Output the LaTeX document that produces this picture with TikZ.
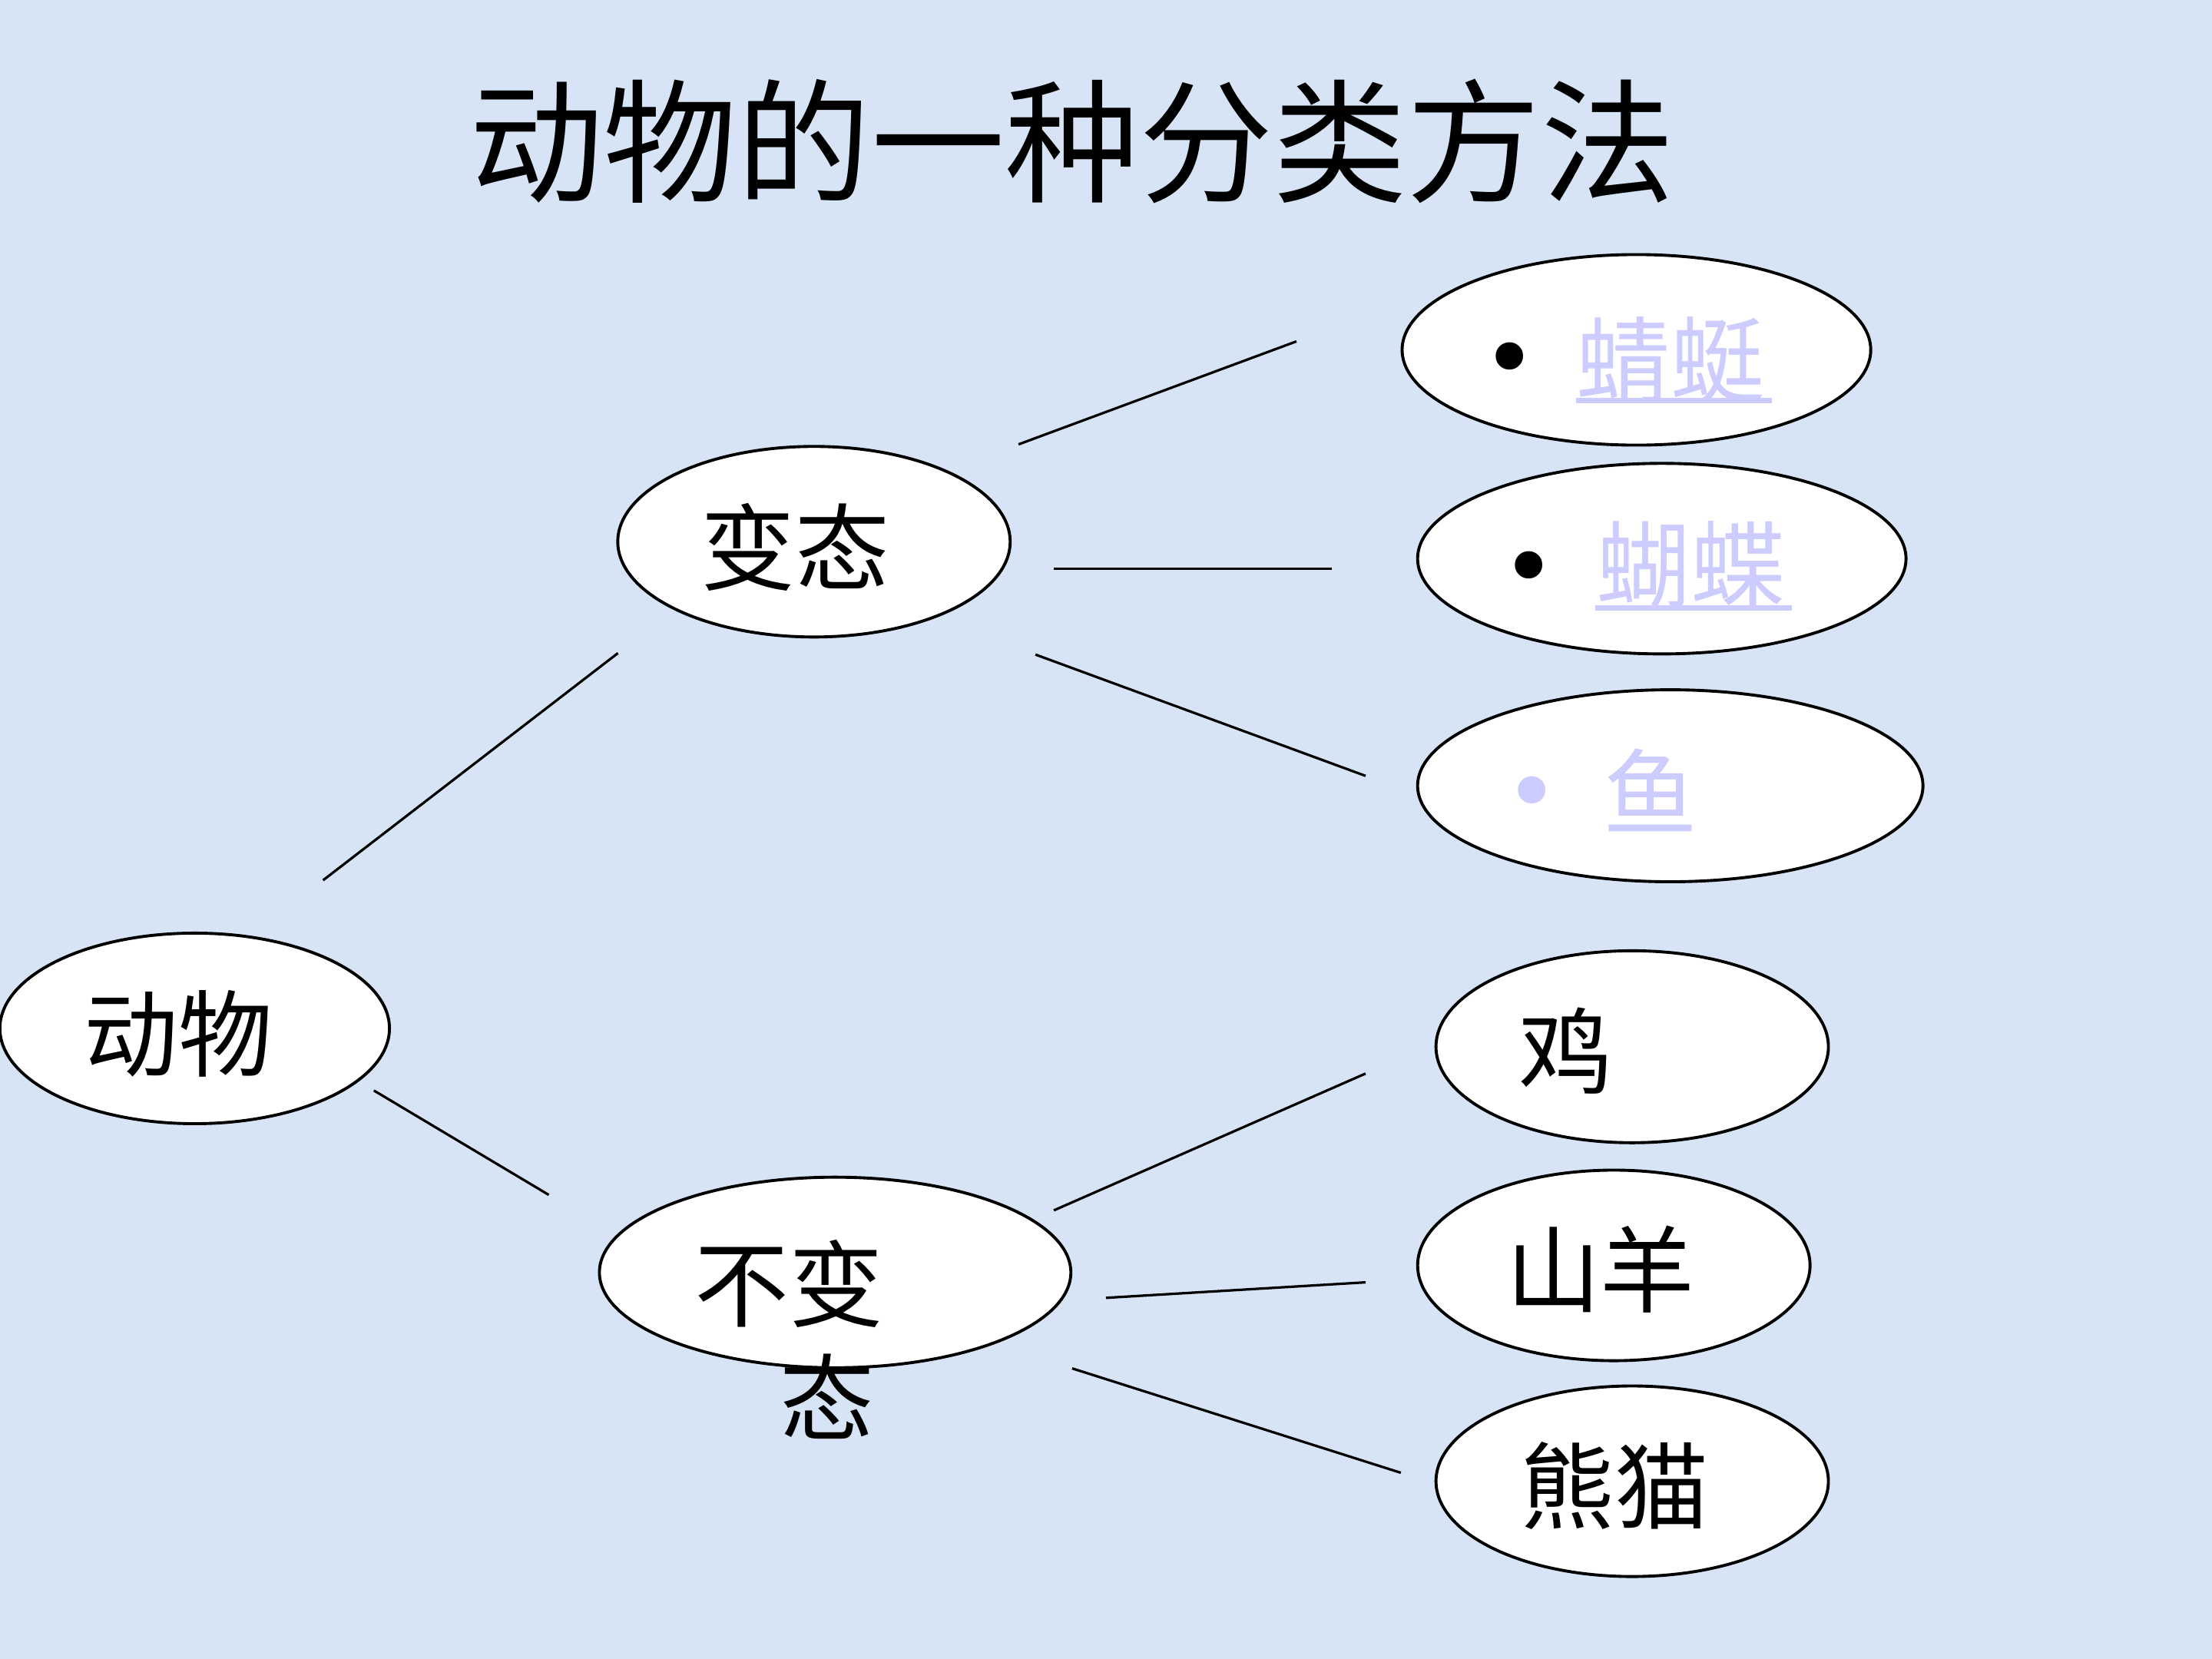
\documentclass[tikz,border=0pt]{standalone}
\usepackage{fontspec}
\newfontfamily\cjk{Noto Sans CJK SC}
\newfontfamily\symf{DejaVu Sans}
\usetikzlibrary{shapes.geometric}
\definecolor{bg}{RGB}{214,228,245}
\definecolor{lav}{RGB}{204,204,255}
\begin{document}
\begin{tikzpicture}[x=0.01cm,y=-0.01cm,
  oval/.style={ellipse,draw=black,line width=0.6pt,fill=white,inner sep=0pt},
  lbl/.style={font=\cjk\fontsize{19}{22}\selectfont,inner sep=0pt,anchor=west},
  linklbl/.style={lbl,text=lav},
  dotlbl/.style={font=\symf\fontsize{19}{22}\selectfont,inner sep=0pt},
  conn/.style={line width=0.5pt},
  uline/.style={draw=lav,line width=1pt}]
\fill[bg] (0,0) rectangle (1568,1176);
\useasboundingbox (0,0) rectangle (1568,1176);

% title
\node[font=\cjk\fontsize{27}{30}\selectfont,inner sep=0pt] (title) at (760,100) {动物的一种分类方法};

% ellipses
\node[oval,minimum width=3.32cm,minimum height=1.35cm] (e1) at (1160,248) {};
\node[oval,minimum width=3.46cm,minimum height=1.35cm] (e2) at (1178,396) {};
\node[oval,minimum width=3.58cm,minimum height=1.36cm] (e3) at (1184,557) {};
\node[oval,minimum width=2.78cm,minimum height=1.35cm] (bt) at (577,384) {};
\node[oval,minimum width=2.76cm,minimum height=1.35cm] (dw) at (138,729) {};
\node[oval,minimum width=3.34cm,minimum height=1.35cm] (bbt) at (592,902) {};
\node[oval,minimum width=2.78cm,minimum height=1.36cm] (ji) at (1157,742) {};
\node[oval,minimum width=2.78cm,minimum height=1.35cm] (sy) at (1144,897) {};
\node[oval,minimum width=2.78cm,minimum height=1.35cm] (xm) at (1157,1050) {};

% labels
\node[dotlbl] (d1) at (1070,260) {•};
\node[linklbl] (t1) at (1117,255) {蜻蜓};
\node[dotlbl] (d2) at (1084,408) {•};
\node[linklbl] (t2) at (1131,400) {蝴蝶};
\node[dotlbl,text=lav] (d3) at (1086,568) {•};
\node[linklbl] (t3) at (1136,560) {鱼};
\coordinate (u1a) at (1117,284); \coordinate (u1b) at (1256,284);
\coordinate (u2a) at (1131,431); \coordinate (u2b) at (1270,431);
\draw[uline] (u1a) -- (u1b);
\draw[uline] (u2a) -- (u2b);

\node[lbl] (tbt) at (496,388) {变态};
\node[lbl] (tdw) at (59,733) {动物};
\node[lbl] (tbb) at (492,910) {不变};
\node[lbl] (tbb2) at (552,990) {态};
\node[lbl] (tji) at (1076,745) {鸡};
\node[lbl] (tsy) at (1067,900) {山羊};
\node[lbl] (txm) at (1077,1053) {熊猫};

% connectors (free-floating)
\coordinate (a1) at (229,624); \coordinate (a2) at (438,463);
\coordinate (b1) at (265,773); \coordinate (b2) at (389,847);
\coordinate (c1) at (722,315); \coordinate (c2) at (919,242);
\coordinate (f1) at (747,403); \coordinate (f2) at (944,403);
\coordinate (g1) at (734,464); \coordinate (g2) at (968,550);
\coordinate (h1) at (747,858); \coordinate (h2) at (968,761);
\coordinate (i1) at (784,920); \coordinate (i2) at (968,909);
\coordinate (j1) at (760,970); \coordinate (j2) at (993,1044);
\draw[conn] (a1) -- (a2);
\draw[conn] (b1) -- (b2);
\draw[conn] (c1) -- (c2);
\draw[conn] (f1) -- (f2);
\draw[conn] (g1) -- (g2);
\draw[conn] (h1) -- (h2);
\draw[conn] (i1) -- (i2);
\draw[conn] (j1) -- (j2);
\end{tikzpicture}
\end{document}
